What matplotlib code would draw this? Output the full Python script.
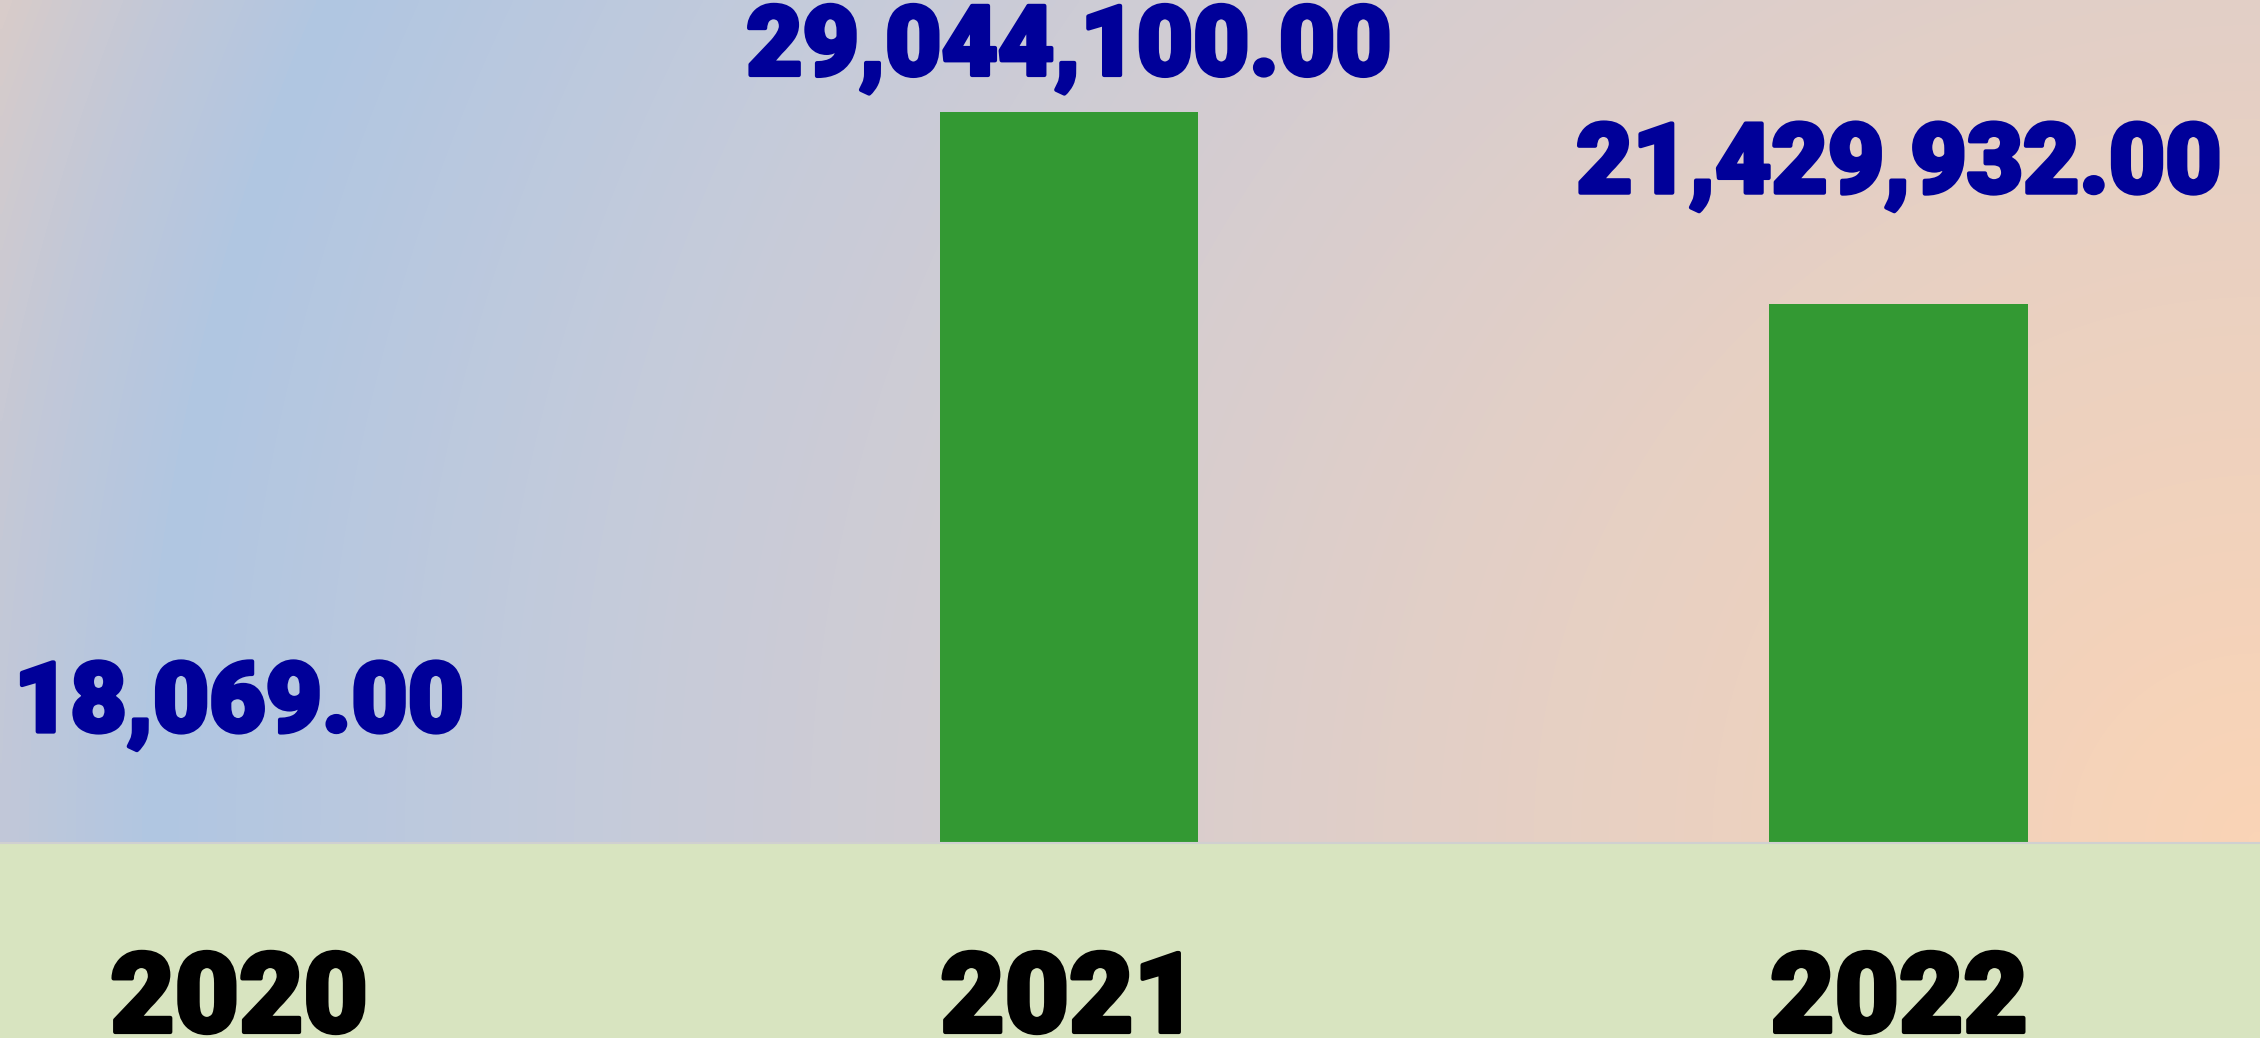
import matplotlib.pyplot as plt
import matplotlib.patheffects as pe
import numpy as np
from matplotlib.colors import LinearSegmentedColormap

# data
years = ["2020", "2021", "2022"]
values = [18069.00, 29044100.00, 21429932.00]

bar_color = "#339933"
label_color = "#000099"
band_color = "#d8e4c0"

W, H = 2260, 1038
plot_h = 843  # height of the plotting area in px, band below it

fig = plt.figure(figsize=(W / 100, H / 100), dpi=100, facecolor=band_color)
rect = [0, (H - plot_h) / H, 1, plot_h / H]

# radial background gradient, centred on the bottom-right corner
bg = fig.add_axes(rect, zorder=0)
bg.axis("off")
xx, yy = np.meshgrid(np.linspace(0, W, 566), np.linspace(0, plot_h, 211))
r = np.hypot(xx - W, yy - plot_h) / np.hypot(W, plot_h)
cmap = LinearSegmentedColormap.from_list("bg", [
    (0.0, "#fad4b6"), (0.3, "#e6d0c4"), (0.5, "#d6cdd0"), (0.7, "#c4cbdb"),
    (0.875, "#b0c6e2"), (0.94, "#c2c8d8"), (1.0, "#d8ccca")])
bg.imshow(r, cmap=cmap, vmin=0, vmax=1, aspect="auto",
          extent=[0, 1, 0, 1], origin="upper", interpolation="bilinear")
bg.set_xlim(0, 1)
bg.set_ylim(0, 1)

ax = fig.add_axes(rect, zorder=1)
ax.set_facecolor("none")

x = np.arange(len(years))
ax.bar(x, values, width=0.312, color=bar_color, zorder=2)

ymax = max(values) * plot_h / 731
ax.set_xlim(-0.288, 2.435)
ax.set_ylim(0, ymax)

for s in ["top", "left", "right"]:
    ax.spines[s].set_visible(False)
ax.spines["bottom"].set_color("#d0d0d0")
ax.spines["bottom"].set_linewidth(1.5)
ax.set_xticks([])
ax.set_yticks([])

font = dict(family="Roboto", weight=900)

# value labels above bars, kept inside the top of the plot
pad = 111 / plot_h * ymax
top_limit = (plot_h - 75) / plot_h * ymax
for xi, v in zip(x, values):
    ax.text(xi, min(v + pad, top_limit), f"{v:,.2f}", ha="center", va="baseline",
            color=label_color, fontsize=70, zorder=3,
            path_effects=[pe.withStroke(linewidth=3, foreground=label_color)],
            **font)

# category labels in the band below
for xi, yr in zip(x, years):
    ax.text(xi, -189 / plot_h, yr, transform=ax.get_xaxis_transform(),
            ha="center", va="baseline", color="black", fontsize=80,
            clip_on=False,
            path_effects=[pe.withStroke(linewidth=3, foreground="black")],
            **font)

fig.savefig("out.png", dpi=100, facecolor=band_color)
